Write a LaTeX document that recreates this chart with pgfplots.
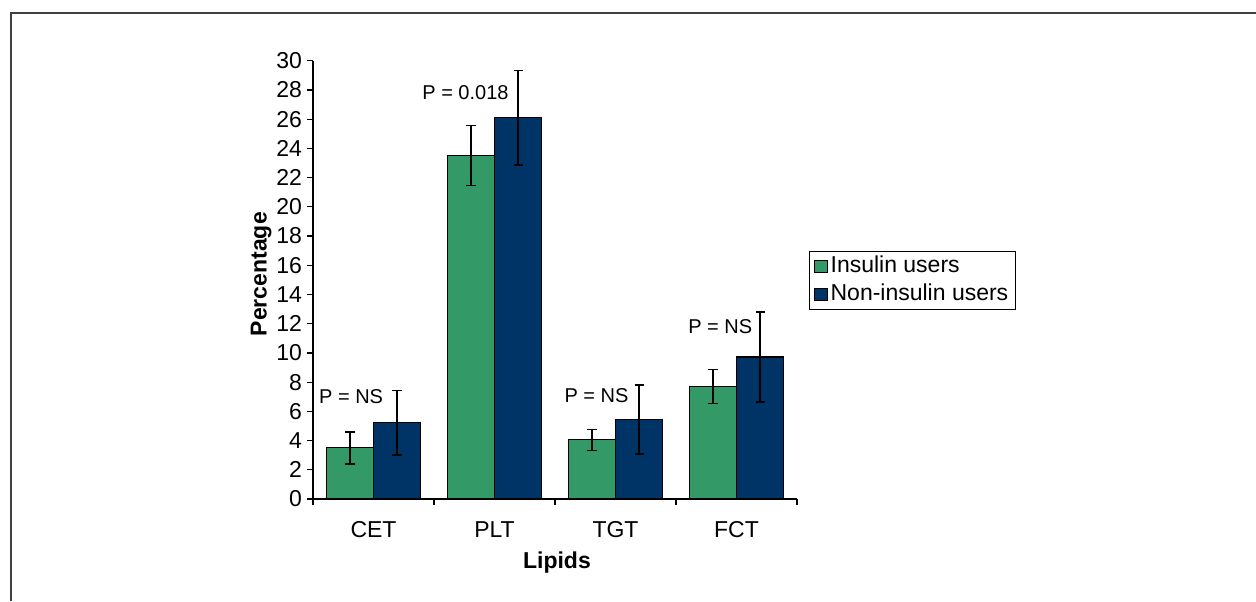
\documentclass[border=0pt]{standalone}
\usepackage{fontspec}
\setmainfont{Liberation Sans}
\usepackage{pgfplots}
\pgfplotsset{compat=1.18}
\definecolor{grn}{RGB}{51,153,102}
\definecolor{nvy}{RGB}{0,51,102}
\newcommand{\cf}{\fontsize{11.5}{13}\selectfont}
\newcommand{\af}{\fontsize{10}{12}\selectfont}
\begin{document}
\begin{tikzpicture}
\path[use as bounding box] (0,0) rectangle (628pt,-300.5pt);
\draw[line width=0.6pt,black!75] (5.5pt,-300.5pt) -- (5.5pt,-6.5pt) -- (628pt,-6.5pt);
\begin{axis}[
  at={(156.5pt,-249.5pt)}, anchor=south west,
  scale only axis, width=242pt, height=219.15pt,
  xmin=-0.5, xmax=3.5, ymin=0, ymax=30,
  axis lines=left, axis line style={-, line width=0.6pt},
  ybar=0pt, bar width=0.39,
  xtick={-0.5,0.5,1.5,2.5,3.5},
  xticklabels={CET,PLT,TGT,FCT},
  x tick label as interval,
  ytick={0,2,...,30},
  tick align=outside, major tick length=3pt,
  tick style={line width=0.6pt, black},
  /pgf/number format/assume math mode=true,
  tick label style={font=\cf},
  yticklabel style={xshift=1pt},
  xticklabel style={anchor=north, text height=8.5pt, text depth=0pt, yshift=-4pt},
  xlabel={Lipids}, ylabel={Percentage},
  label style={font=\cf\bfseries},
  xlabel style={at={(axis description cs:0.504,-0.144)}, anchor=center},
  ylabel style={at={(axis description cs:-0.107,0.513)}, anchor=center},
  legend style={at={(1.0248,0.5658)}, anchor=north west, draw=black, line width=0.6pt,
    font=\cf, row sep=0pt, inner xsep=2pt, inner ysep=0.5pt,
    nodes={inner sep=1.5pt, text height=8.5pt, text depth=2.5pt}},
  legend cell align=left,
  legend image code/.code={\draw[#1,draw=black,line width=0.5pt] (0pt,-3pt) rectangle (6.5pt,3pt);},
  clip=false,
]
\addplot[fill=grn, draw=black, line width=0.6pt,
  error bars/.cd, y dir=both, y explicit,
  error bar style={line width=0.7pt, black},
  error mark options={rotate=90, mark size=2.3pt, line width=0.7pt, black}]
  coordinates {(0,3.5) +- (0,1.1) (1,23.5) +- (0,2.05) (2,4.05) +- (0,0.71) (3,7.7) +- (0,1.15)};
\addplot[fill=nvy, draw=black, line width=0.6pt,
  error bars/.cd, y dir=both, y explicit,
  error bar style={line width=0.7pt, black},
  error mark options={rotate=90, mark size=2.3pt, line width=0.7pt, black}]
  coordinates {(0,5.22) +- (0,2.22) (1,26.1) +- (0,3.25) (2,5.45) +- (0,2.36) (3,9.72) +- (0,3.09)};
\legend{Insulin users, Non-insulin users}
\node[font=\af, anchor=center] at (axis cs:-0.185,6.98) {P = NS};
\node[font=\af, anchor=center] at (axis cs:0.76,27.8) {P = 0.018};
\node[font=\af, anchor=center] at (axis cs:1.843,7.05) {P = NS};
\node[font=\af, anchor=center] at (axis cs:2.866,11.79) {P = NS};
\end{axis}
\end{tikzpicture}
\end{document}
